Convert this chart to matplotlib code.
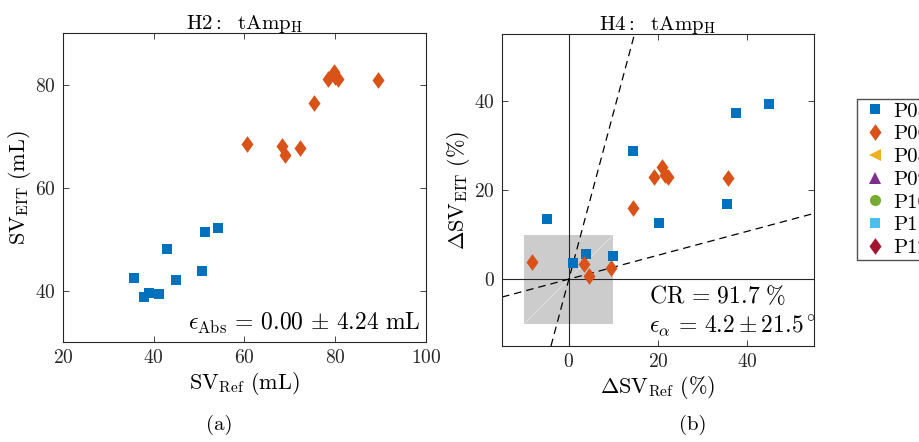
import numpy as np
import matplotlib.pyplot as plt
from matplotlib.patches import Rectangle

plt.rcParams['font.family'] = ['cmr10', 'DejaVu Serif']
plt.rcParams['mathtext.fontset'] = 'cm'
plt.rcParams['axes.formatter.use_mathtext'] = True
plt.rcParams['axes.unicode_minus'] = False

# --- data ---
participants = ['P05', 'P06', 'P08', 'P09', 'P10', 'P11', 'P12']
colors = ['#0072BD', '#D95319', '#EDB120', '#7E2F8E', '#77AC30', '#4DBEEE', '#A2142F']
diamond = [(0, 1), (0.72, 0), (0, -1), (-0.72, 0), (0, 1)]
markers = ['s', diamond, '<', '^', 'o', 's', diamond]
msizes = [7, 12, 9, 9, 8, 7, 12]

# (a) absolute stroke volume, mL
sv_ref = {
    'P05': [35.6, 37.8, 38.9, 41.1, 42.9, 45.0, 50.7, 51.4, 54.2],
    'P06': [60.5, 68.3, 69.0, 72.2, 75.4, 78.5, 79.8, 80.0, 80.7, 89.5],
}
sv_eit = {
    'P05': [42.45, 38.8, 39.5, 39.35, 48.1, 42.1, 43.7, 51.3, 52.1],
    'P06': [68.45, 68.1, 66.4, 67.6, 76.5, 81.0, 82.5, 81.4, 81.0, 80.9],
}
# (b) relative changes, %
dsv_ref = {
    'P05': [-4.9, 1.0, 3.75, 9.8, 14.5, 20.3, 35.6, 37.5, 45.0],
    'P06': [-8.2, 3.5, 4.6, 9.4, 14.3, 19.0, 20.9, 21.6, 22.2, 35.7],
}
dsv_eit = {
    'P05': [13.56, 3.67, 5.54, 5.24, 28.7, 12.7, 16.9, 37.2, 39.3],
    'P06': [3.9, 3.4, 0.7, 2.6, 16.0, 22.9, 25.2, 23.3, 22.9, 22.7],
}
bound_angles = [15.0, 75.0]   # degrees, dashed concordance bounds
exclusion = 10.0              # central exclusion zone, %

fig = plt.figure(figsize=(9.2, 4.42), dpi=100)
ax1 = fig.add_axes([0.0685, 0.2262, 0.3945, 0.699])
ax2 = fig.add_axes([0.5457, 0.2172, 0.339, 0.706])

# panel (a)
for p, c, m, ms in zip(participants, colors, markers, msizes):
    ax1.plot(sv_ref.get(p, []), sv_eit.get(p, []), ls='none', marker=m,
             color=c, markersize=ms, markeredgewidth=0, label=p)
ax1.set_xlim(20, 100)
ax1.set_ylim(30, 90)
ax1.set_xticks([20, 40, 60, 80, 100])
ax1.set_yticks([40, 60, 80])
ax1.set_xlabel(r'$\mathrm{SV}_\mathrm{Ref}\ \mathrm{(mL)}$', fontsize=16, labelpad=2)
ax1.set_ylabel(r'$\mathrm{SV}_\mathrm{EIT}\ \mathrm{(mL)}$', fontsize=16, labelpad=2)
ax1.set_title(r'$\mathrm{H2{:}}\ \ \mathrm{tAmp}_\mathrm{H}$', fontsize=15, pad=3)
ax1.text(0.985, 0.02, r'$\epsilon_\mathrm{Abs}\,=\,0.00\,\pm\,4.24\ \mathrm{mL}$',
         transform=ax1.transAxes, ha='right', va='bottom', fontsize=17)

# panel (b)
ax2.add_patch(Rectangle((-exclusion, -exclusion), 2 * exclusion, 2 * exclusion,
                        facecolor='#cccccc', edgecolor='none', zorder=0))
ax2.plot([-exclusion, exclusion], [-exclusion, exclusion], color='#e6e6e6', lw=0.5, zorder=1)
ax2.axhline(0, color='#262626', lw=0.8, zorder=1)
ax2.axvline(0, color='#262626', lw=0.8, zorder=1)
for a in bound_angles:
    ax2.axline((0, 0), slope=np.tan(np.radians(a)), color='black', lw=0.9,
               ls=(0, (6, 4)), zorder=2)
handles = []
for p, c, m, ms in zip(participants, colors, markers, msizes):
    h, = ax2.plot(dsv_ref.get(p, []), dsv_eit.get(p, []), ls='none', marker=m,
                  color=c, markersize=ms, markeredgewidth=0, label=p, zorder=3)
    handles.append(h)
ax2.set_xlim(-15, 55)
ax2.set_ylim(-15, 55)
ax2.set_xticks([0, 20, 40])
ax2.set_yticks([0, 20, 40])
ax2.set_xlabel(r'$\Delta\mathrm{SV}_\mathrm{Ref}\ (\%)$', fontsize=16, labelpad=2)
ax2.set_ylabel(r'$\Delta\mathrm{SV}_\mathrm{EIT}\ (\%)$', fontsize=16, labelpad=2)
ax2.set_title(r'$\mathrm{H4{:}}\ \ \mathrm{tAmp}_\mathrm{H}$', fontsize=15, pad=3)
ax2.text(0.47, 0.158, r'$\mathrm{CR}\,=\,91.7\ \%$', transform=ax2.transAxes,
         ha='left', va='center', fontsize=17)
ax2.text(0.47, 0.065, r'$\epsilon_\alpha\,=\,4.2\pm21.5^\circ$', transform=ax2.transAxes,
         ha='left', va='center', fontsize=17)

for ax in (ax1, ax2):
    ax.tick_params(direction='in', top=True, right=True, labelsize=14,
                   length=4, width=0.6, colors='#262626', pad=5)
    for s in ax.spines.values():
        s.set_color('#262626')
        s.set_linewidth(0.8)

fig.legend(handles=handles, loc='upper left', bbox_to_anchor=(0.9315, 0.776),
           borderaxespad=0, frameon=True, fancybox=False, edgecolor='#262626',
           fontsize=15, handletextpad=0.15, borderpad=0.15, labelspacing=0.2,
           handlelength=1.44, markerscale=1.0)

fig.text(0.238, 0.015, '(a)', ha='center', va='bottom', fontsize=15)
fig.text(0.753, 0.015, '(b)', ha='center', va='bottom', fontsize=15)

fig.savefig('out.png', dpi=100)
